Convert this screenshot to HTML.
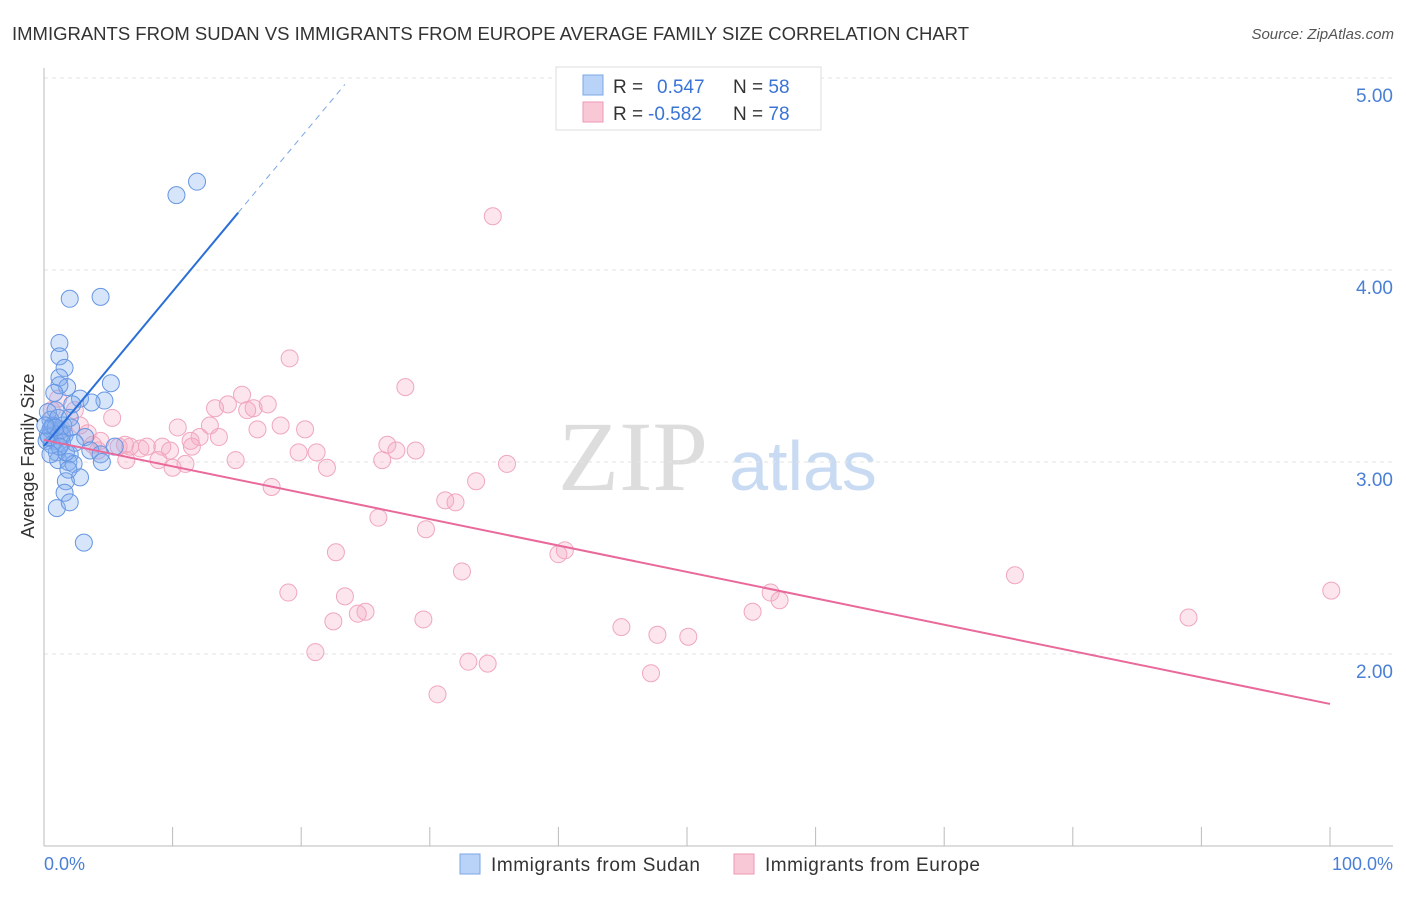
<!DOCTYPE html>
<html><head><meta charset="utf-8"><style>
body{margin:0;background:#fff;font-family:"Liberation Sans",sans-serif}
</style></head><body>
<svg id="c" width="1406" height="892" xmlns="http://www.w3.org/2000/svg">
<text x="12" y="40" font-size="18.5" fill="#333" textLength="957">IMMIGRANTS FROM SUDAN VS IMMIGRANTS FROM EUROPE AVERAGE FAMILY SIZE CORRELATION CHART</text>
<text x="1394" y="39" font-size="15" fill="#555" font-style="italic" text-anchor="end">Source: ZipAtlas.com</text>
<text x="633" y="490" font-size="100" fill="#ddd" font-family="Liberation Serif,serif" text-anchor="middle">ZIP</text>
<text x="803" y="490" font-size="70" fill="#c9dbf3" text-anchor="middle">atlas</text>
<g id="grid"></g><g id="pts"></g><g id="lines"></g>
<text transform="translate(34,456) rotate(-90)" font-size="18" fill="#333" text-anchor="middle">Average Family Size</text>
<text x="44" y="870" font-size="18" fill="#4a7fd6">0.0%</text>
<text x="1393" y="870" font-size="18" fill="#4a7fd6" text-anchor="end">100.0%</text>
<g>
<rect x="460" y="854" width="20" height="20" fill="#b8d3f7" stroke="#7ba7e6"/>
<text x="491" y="871" font-size="19" fill="#333" textLength="209">Immigrants from Sudan</text>
<rect x="734" y="854" width="20" height="20" fill="#f9c8d7" stroke="#ee9ab5"/>
<text x="765" y="871" font-size="19" fill="#333" textLength="215">Immigrants from Europe</text>
</g>
<g>
<rect x="556" y="67" width="265" height="63" fill="#fff" stroke="#ddd"/>
<rect x="583" y="75" width="20" height="20" fill="#b8d3f7" stroke="#7ba7e6"/>
<rect x="583" y="102" width="20" height="20" fill="#f9c8d7" stroke="#ee9ab5"/>
<text x="613" y="93" font-size="19" fill="#333">R = <tspan x="657" fill="#3a74d6">0.547</tspan><tspan x="733">N = </tspan><tspan fill="#3a74d6">58</tspan></text>
<text x="613" y="120" font-size="19" fill="#333">R = <tspan x="648" fill="#3a74d6">-0.582</tspan><tspan x="733">N = </tspan><tspan fill="#3a74d6">78</tspan></text>
</g>
</svg>
<script>
const yTicks=[2,3,4,5];
const yTickLabels=["2.00","3.00","4.00","5.00"];
const xTicks=[0,10,20,30,40,50,60,70,80,90,100];
const sudanX=[11.9,10.3,4.4,2.0,1.2,1.2,1.6,1.2,1.8,1.2,5.2,0.8,2.8,4.7,3.7,2.2,0.9,2.0,0.5,0.6,1.2,0.3,1.6,0.9,3.2,1.4,3.6,1.0,2.0,4.4,5.5,1.1,1.9,2.3,4.5,2.8,1.7,1.6,1.0,2.0,3.1,0.5,0.7,1.5,0.3,0.2,1.1,1.7,2.4,0.6,0.4,1.4,0.9,2.1,0.1,1.2,0.5,1.9];
const sudanY=[4.46,4.39,3.86,3.85,3.62,3.55,3.49,3.44,3.39,3.40,3.41,3.36,3.33,3.32,3.31,3.30,3.27,3.23,3.22,3.18,3.16,3.14,3.14,3.11,3.13,3.10,3.06,3.05,3.04,3.04,3.08,3.01,3.00,2.99,3.00,2.92,2.90,2.84,2.76,2.79,2.58,3.17,3.19,3.19,3.26,3.11,3.23,3.05,3.10,3.09,3.13,3.14,3.18,3.18,3.19,3.08,3.04,2.96];
const europeX=[34.9,19.1,28.1,15.4,13.3,14.3,15.8,16.3,17.4,5.3,1.1,0.6,2.4,10.4,16.6,18.4,20.3,12.9,12.1,11.4,13.6,3.4,4.4,6.3,6.7,7.5,8.0,9.2,9.8,11.5,5.8,4.2,3.8,1.4,2.8,26.7,28.9,27.4,19.8,21.2,26.3,22.0,14.9,6.4,8.9,10.0,11.0,36.0,33.6,17.7,31.2,32.0,26.0,29.7,22.7,40.0,40.5,32.5,19.0,23.4,25.0,24.4,22.5,29.5,75.5,56.5,57.2,55.1,89.0,100.1,44.9,47.7,50.1,21.1,33.0,34.5,47.2,30.6];
const europeY=[4.28,3.54,3.39,3.35,3.28,3.30,3.27,3.28,3.30,3.23,3.33,3.27,3.27,3.18,3.17,3.19,3.17,3.19,3.13,3.11,3.13,3.15,3.11,3.09,3.08,3.07,3.08,3.08,3.06,3.08,3.08,3.06,3.09,3.17,3.19,3.09,3.06,3.06,3.05,3.05,3.01,2.97,3.01,3.01,3.01,2.97,2.99,2.99,2.90,2.87,2.80,2.79,2.71,2.65,2.53,2.52,2.54,2.43,2.32,2.30,2.22,2.21,2.17,2.18,2.41,2.32,2.28,2.22,2.19,2.33,2.14,2.10,2.09,2.01,1.96,1.95,1.90,1.79];
const sudanTrend=[3.083,0.0805];
const europeTrend=[3.115,-0.01375];
const X=v=>44+v*12.86, Y=v=>846-(v-1)*192;
const NS="http://www.w3.org/2000/svg";
function mk(tag,attrs,parent){const e=document.createElementNS(NS,tag);for(const k in attrs)e.setAttribute(k,attrs[k]);document.getElementById(parent).appendChild(e);return e;}
const g="grid";
yTicks.forEach((t,i)=>{
 const l=mk("line",{x1:44,x2:1393,y1:Y(t),y2:Y(t),stroke:"#e3e3e3","stroke-dasharray":"4,4"},g);
 
 
 const tx=mk("text",{x:1393,y:Y(t)+24,"font-size":19,fill:"#4a7fd6","text-anchor":"end"},g);
 tx.textContent=yTickLabels[i];
 
 
});
const ax=mk("line",{x1:44,x2:44,y1:68,y2:846,stroke:"#bbb"},g);


const bx=mk("line",{x1:44,x2:1393,y1:846,y2:846,stroke:"#bbb"},g);


xTicks.forEach(t=>{
 const l=mk("line",{x1:X(t),x2:X(t),y1:827,y2:846,stroke:"#bbb"},g);
 
 
});
europeX.forEach((v,i)=>{
 const c=mk("circle",{cx:X(v),cy:Y(europeY[i]),r:8.5,fill:"rgba(246,170,196,0.3)",stroke:"#f0a6bf","stroke-width":1},"pts");
 
 
});
sudanX.forEach((v,i)=>{
 const c=mk("circle",{cx:X(v),cy:Y(sudanY[i]),r:8.5,fill:"rgba(130,175,240,0.32)",stroke:"#6696e2","stroke-width":1},"pts");
 
 
});
let l1=mk("line",{x1:X(0),y1:Y(sudanTrend[0]),x2:X(15.1),y2:Y(sudanTrend[0]+sudanTrend[1]*15.1),stroke:"#2a6fd8","stroke-width":2},"lines");


let l2=mk("line",{x1:X(15.1),y1:Y(sudanTrend[0]+sudanTrend[1]*15.1),x2:X(23.4),y2:Y(sudanTrend[0]+sudanTrend[1]*23.4),stroke:"#7aa5e6","stroke-width":1,"stroke-dasharray":"6,5"},"lines");


let l3=mk("line",{x1:X(0),y1:Y(europeTrend[0]),x2:X(100),y2:Y(europeTrend[0]+europeTrend[1]*100),stroke:"#e8699a","stroke-width":2},"lines");


</script>
</body></html>
